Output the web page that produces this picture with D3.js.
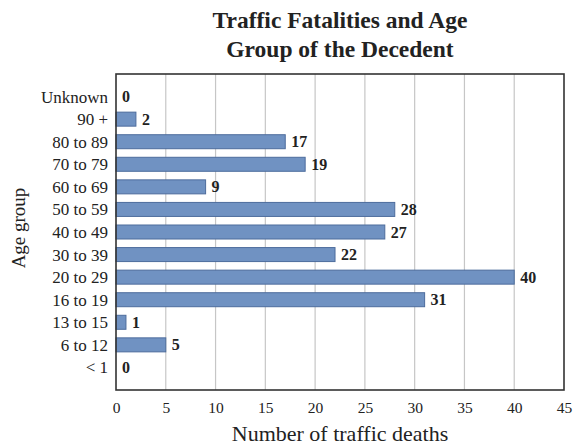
<!DOCTYPE html>
<html>
<head>
<meta charset="utf-8">
<script src="https://cdn.jsdelivr.net/npm/d3@7"></script>
<style>
  html, body { margin: 0; padding: 0; background: #fff; }
  svg { display: block; }
</style>
</head>
<body>
<svg id="chart" width="578" height="448"></svg>
<script>
const categories = ["Unknown", "90 +", "80 to 89", "70 to 79", "60 to 69", "50 to 59", "40 to 49", "30 to 39", "20 to 29", "16 to 19", "13 to 15", "6 to 12", "< 1"];
const deaths = [0, 2, 17, 19, 9, 28, 27, 22, 40, 31, 1, 5, 0];
const xTicks = [0, 5, 10, 15, 20, 25, 30, 35, 40, 45];
const titleLines = ["Traffic Fatalities and Age", "Group of the Decedent"];
const xTitle = "Number of traffic deaths";
const yTitle = "Age group";

const svg = d3.select("#chart");
const font = "'Liberation Serif', 'Times New Roman', serif";
const L = 116, R = 564, T = 74, B = 390;

const x = d3.scaleLinear().domain([0, 45]).range([L, R]);
const y = d3.scalePoint().domain(categories).range([T, B]).padding(1);
const barH = 14;

// gridlines
svg.append("g")
  .selectAll("line").data(xTicks.filter(d => d > 0 && d < 45)).join("line")
  .attr("x1", d => x(d)).attr("x2", d => x(d))
  .attr("y1", T).attr("y2", B)
  .attr("stroke", "#c6c6c6").attr("stroke-width", 1.2);

// bars
svg.append("g")
  .selectAll("rect").data(categories).join("rect")
  .attr("x", x(0))
  .attr("y", d => y(d) - barH / 2)
  .attr("width", (d, i) => x(deaths[i]) - x(0))
  .attr("height", barH)
  .attr("fill", "#7092c2")
  .attr("stroke", "#4d6c9c")
  .attr("stroke-width", 1);

// value labels
svg.append("g")
  .selectAll("text").data(categories).join("text")
  .attr("x", (d, i) => x(deaths[i]) + 6)
  .attr("y", d => y(d))
  .attr("dy", "0.35em")
  .attr("font-family", font)
  .attr("font-weight", "bold")
  .attr("font-size", 16)
  .attr("fill", "#222")
  .text((d, i) => deaths[i]);

// plot frame
svg.append("rect")
  .attr("x", L).attr("y", T).attr("width", R - L).attr("height", B - T)
  .attr("fill", "none").attr("stroke", "#333").attr("stroke-width", 1.6);

// y axis (category labels)
const yAxis = d3.axisLeft(y).tickSize(0).tickPadding(8);
const gy = svg.append("g").attr("transform", `translate(${L},0)`).call(yAxis);
gy.attr("font-family", font);
gy.select(".domain").remove();
gy.selectAll("text").attr("font-family", font).attr("font-size", 17).attr("fill", "#222");

// x axis
const xAxis = d3.axisBottom(x).tickValues(xTicks).tickSize(0).tickPadding(12);
const gx = svg.append("g").attr("transform", `translate(0,${B})`).call(xAxis);
gx.attr("font-family", font);
gx.select(".domain").remove();
gx.selectAll("text").attr("font-family", font).attr("font-size", 15.5).attr("fill", "#222");

// axis titles
svg.append("text")
  .attr("x", (L + R) / 2).attr("y", 441)
  .attr("text-anchor", "middle")
  .attr("font-family", font).attr("font-size", 22).attr("fill", "#222")
  .text(xTitle);

svg.append("text")
  .attr("transform", `translate(25,${(T + B) / 2 - 4}) rotate(-90)`)
  .attr("text-anchor", "middle")
  .attr("font-family", font).attr("font-size", 19).attr("fill", "#222")
  .text(yTitle);

// title
svg.append("g").selectAll("text").data(titleLines).join("text")
  .attr("x", (L + R) / 2)
  .attr("y", (d, i) => 28 + i * 29)
  .attr("text-anchor", "middle")
  .attr("font-family", font).attr("font-weight", "bold").attr("font-size", 23.5).attr("fill", "#222")
  .text(d => d);
</script>
</body>
</html>
